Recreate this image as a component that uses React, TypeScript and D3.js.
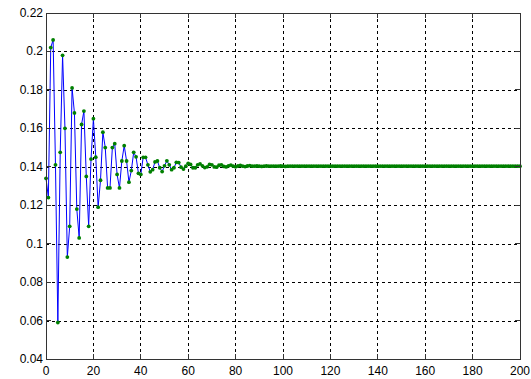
import React from "react";
import * as d3 from "d3";

const xTicks = [0, 20, 40, 60, 80, 100, 120, 140, 160, 180, 200];
const yTicks = [0.04, 0.06, 0.08, 0.1, 0.12, 0.14, 0.16, 0.18, 0.2, 0.22];

const earlyValues = [
  0.134, 0.124, 0.202, 0.206, 0.141, 0.059, 0.1475, 0.198, 0.16, 0.093,
  0.109, 0.181, 0.168, 0.118, 0.103, 0.162, 0.169, 0.135, 0.109, 0.144,
  0.165, 0.145, 0.119, 0.133, 0.158, 0.15, 0.129, 0.129, 0.15, 0.152,
  0.136, 0.129, 0.143, 0.151, 0.143, 0.132, 0.138, 0.1475, 0.1452, 0.1366,
  0.136, 0.1449, 0.1449, 0.141, 0.1374, 0.1385, 0.1425, 0.143, 0.1395, 0.1375,
  0.1405, 0.1431, 0.141, 0.1385, 0.1395, 0.1423, 0.1422, 0.1398, 0.1388, 0.1403,
  0.1418, 0.1412, 0.1395, 0.1395, 0.141, 0.1415, 0.1405, 0.1396, 0.14, 0.1412,
  0.141, 0.1399, 0.1398, 0.1408, 0.141, 0.1402, 0.1399, 0.1405, 0.1409, 0.1403,
  0.14, 0.1404, 0.1407, 0.1403, 0.1401, 0.1404, 0.1406,
];

const lateValues = [
  0.1403, 0.1403, 0.1404, 0.1403, 0.1402, 0.1403, 0.1404, 0.1403, 0.1403, 0.1403,
  0.1403, 0.1403, 0.1404, 0.1403, 0.1402, 0.1403, 0.1403, 0.1403, 0.1403, 0.1403,
  0.1403, 0.1403, 0.1403, 0.1403, 0.1403, 0.1403, 0.1403, 0.1403, 0.1403, 0.1403,
  0.1403, 0.1403, 0.1403, 0.1403, 0.1403, 0.1403, 0.1403, 0.1403, 0.1403, 0.1403,
  0.1403, 0.1403, 0.1403, 0.1403, 0.1403, 0.1403, 0.1403, 0.1403, 0.1403, 0.1403,
  0.1403, 0.1403, 0.1403, 0.1403, 0.1403, 0.1403, 0.1403, 0.1403, 0.1403, 0.1403,
  0.1403, 0.1403, 0.1403, 0.1403, 0.1403, 0.1403, 0.1403, 0.1403, 0.1403, 0.1403,
  0.1403, 0.1403, 0.1403, 0.1403, 0.1403, 0.1403, 0.1403, 0.1403, 0.1403, 0.1403,
  0.1403, 0.1403, 0.1403, 0.1403, 0.1403, 0.1403, 0.1403, 0.1403, 0.1403, 0.1403,
  0.1403, 0.1403, 0.1403, 0.1403, 0.1403, 0.1403, 0.1403, 0.1403, 0.1403, 0.1403,
  0.1403, 0.1403, 0.1403, 0.1403, 0.1403, 0.1403, 0.1403, 0.1403, 0.1403, 0.1403,
  0.1403, 0.1403, 0.1403, 0.1403,
];

const values = [...earlyValues, ...lateValues];

const W = 531;
const H = 379;
const left = 46;
const right = 520;
const top = 13;
const bottom = 359;

export default function App() {
  const x = d3.scaleLinear().domain([0, 200]).range([left, right]);
  const y = d3.scaleLinear().domain([0.04, 0.22]).range([bottom, top]);
  const data = values.map((v, i) => [i, v] as [number, number]);
  const line = d3
    .line<[number, number]>()
    .x((d) => x(d[0]))
    .y((d) => y(d[1]));
  const font = "'Liberation Sans', Arial, sans-serif";
  const axisColor = "#333";
  return (
    <svg
      width={W}
      height={H}
      style={{ position: "fixed", left: 0, top: 0, background: "#fff" }}
    >
      <rect x={0} y={0} width={W} height={H} fill="#fff" />
      {xTicks.slice(1, -1).map((t) => (
        <line
          key={"gx" + t}
          x1={x(t)}
          x2={x(t)}
          y1={top}
          y2={bottom}
          stroke="#000"
          strokeWidth={1}
          strokeDasharray="3,3"
          shapeRendering="crispEdges"
        />
      ))}
      {yTicks.slice(1, -1).map((t) => (
        <line
          key={"gy" + t}
          x1={left}
          x2={right}
          y1={Math.round(y(t)) + 0.5}
          y2={Math.round(y(t)) + 0.5}
          stroke="#000"
          strokeWidth={1}
          strokeDasharray="3,3"
          shapeRendering="crispEdges"
        />
      ))}
      <path d={line(data) || ""} fill="none" stroke="#0000ff" strokeWidth={1} />
      {data.map((d) => (
        <circle key={d[0]} cx={x(d[0])} cy={y(d[1])} r={1.9} fill="#008000" />
      ))}
      <rect
        x={left}
        y={top}
        width={right - left}
        height={bottom - top}
        fill="none"
        stroke={axisColor}
        strokeWidth={1}
        shapeRendering="crispEdges"
      />
      {xTicks.map((t) => (
        <g key={"xt" + t}>
          <line x1={x(t)} x2={x(t)} y1={bottom} y2={bottom - 5} stroke={axisColor} shapeRendering="crispEdges" />
          <line x1={x(t)} x2={x(t)} y1={top} y2={top + 5} stroke={axisColor} shapeRendering="crispEdges" />
          <text
            x={x(t)}
            y={bottom + 16}
            textAnchor="middle"
            fontFamily={font}
            fontSize={12}
            fill="#000"
          >
            {t}
          </text>
        </g>
      ))}
      {yTicks.map((t) => (
        <g key={"yt" + t}>
          <line x1={left} x2={left + 5} y1={y(t)} y2={y(t)} stroke={axisColor} shapeRendering="crispEdges" />
          <line x1={right} x2={right - 5} y1={y(t)} y2={y(t)} stroke={axisColor} shapeRendering="crispEdges" />
          <text
            x={left - 3}
            y={y(t) + 4}
            textAnchor="end"
            fontFamily={font}
            fontSize={12}
            fill="#000"
          >
            {d3.format("")(+t.toFixed(2))}
          </text>
        </g>
      ))}
    </svg>
  );
}
